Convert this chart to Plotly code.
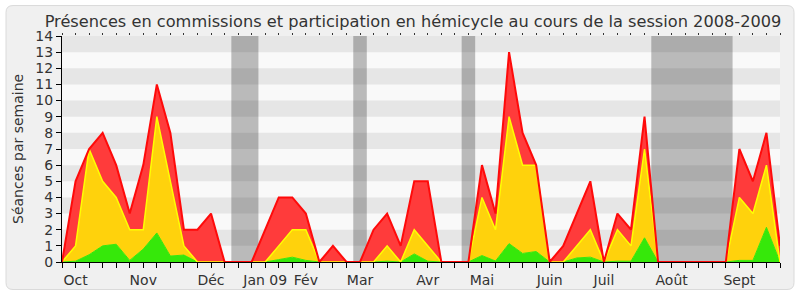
import plotly.graph_objects as go

# ---------------- data ----------------
weeks = list(range(54))
commissions = [0, 0.05, 0.45, 1.0, 1.1, 0.1, 0.8, 1.8, 0.37, 0.43,
               0, 0, 0, 0, 0, 0, 0.15, 0.3, 0.1, 0,
               0, 0, 0, 0, 0.05, 0, 0.5, 0.05, 0, 0,
               0, 0.4, 0.06, 1.14, 0.53, 0.65, 0, 0, 0.25, 0.3,
               0, 0.05, 0.05, 1.5, 0, 0, 0, 0, 0, 0,
               0.1, 0.1, 2.15, 0]
hemicycle = [0, 0.95, 6.55, 4.0, 2.9, 1.9, 1.2, 7.2, 4.63, 0.57,
             0, 0, 0, 0, 0, 0, 0.85, 1.7, 1.9, 0,
             0, 0, 0, 0, 0.95, 0, 1.5, 0.95, 0, 0,
             0, 3.6, 1.94, 7.86, 5.47, 5.35, 0, 0, 0.75, 1.7,
             0, 1.95, 0.95, 5.5, 0, 0, 0, 0, 0, 0,
             3.9, 2.9, 3.85, 0]
autres = [0, 4, 0, 3, 2, 1, 4, 2, 3, 1,
          2, 3, 0, 0, 0, 2, 3, 2, 1, 0,
          1, 0, 0, 2, 2, 1, 3, 4, 0, 0,
          0, 2, 1, 4, 2, 0, 0, 1, 2, 3,
          0, 1, 1, 2, 0, 0, 0, 0, 0, 0,
          3, 2, 2, 1]
month_pos = [1, 6, 11, 15, 18, 22, 27, 31, 36, 40, 45, 50]
month_labels = ["Oct", "Nov", "Déc", "Jan 09", "Fév", "Mar", "Avr", "Mai",
                "Juin", "Juil", "Août", "Sept"]
vacations = [(12.5, 14.5), (21.5, 22.5), (29.5, 30.5), (43.5, 49.5)]
y_ticks = list(range(15))

# ---------------- layout helpers ----------------
W, H = 800, 300
L, R, T, B = 62, 20, 36, 34
pw, ph = W - L - R, H - T - B


def px(x):
    return (x - L) / pw


def py(y):
    return (H - B - y) / ph


FONT = "DejaVu Sans"
TXT = "#333333"

fig = go.Figure()

fig.add_trace(go.Scatter(x=weeks, y=commissions, stackgroup="s", mode="lines",
                         line=dict(color="#36E80A", width=1), fillcolor="#36E80A",
                         hoverinfo="skip", showlegend=False))
fig.add_trace(go.Scatter(x=weeks, y=hemicycle, stackgroup="s", mode="lines",
                         line=dict(color="#FFFF00", width=1.5), fillcolor="#FFD20C",
                         hoverinfo="skip", showlegend=False))
fig.add_trace(go.Scatter(x=weeks, y=autres, stackgroup="s", mode="lines",
                         line=dict(color="#FF0A0A", width=2), fillcolor="#FF3B3B",
                         hoverinfo="skip", showlegend=False))
# invisible trace to carry the top tick axis
fig.add_trace(go.Scatter(x=[0, 53], y=[0, 0], xaxis="x2", mode="lines",
                         line=dict(width=0), hoverinfo="skip", showlegend=False,
                         opacity=0))

shapes = []
# rounded frame
x0, y0, x1, y1, r = 6, 5, 794, 294, 7
path = (f"M {px(x0 + r)},{py(y0)} L {px(x1 - r)},{py(y0)} "
        f"Q {px(x1)},{py(y0)} {px(x1)},{py(y0 + r)} "
        f"L {px(x1)},{py(y1 - r)} Q {px(x1)},{py(y1)} {px(x1 - r)},{py(y1)} "
        f"L {px(x0 + r)},{py(y1)} Q {px(x0)},{py(y1)} {px(x0)},{py(y1 - r)} "
        f"L {px(x0)},{py(y0 + r)} Q {px(x0)},{py(y0)} {px(x0 + r)},{py(y0)} Z")
shapes.append(dict(type="path", path=path, xref="paper", yref="paper",
                   fillcolor="#F0F0F0", line=dict(color="#DADADA", width=1),
                   layer="below"))
shapes.append(dict(type="rect", xref="paper", yref="y", x0=0, x1=1, y0=0, y1=14,
                   fillcolor="#F9F9F9", line=dict(width=0), layer="below"))
for k in range(1, 14, 2):
    shapes.append(dict(type="rect", xref="paper", yref="y", x0=0, x1=1,
                       y0=k, y1=k + 1, fillcolor="#E6E6E6", line=dict(width=0),
                       layer="below"))
for a, b in vacations:
    shapes.append(dict(type="rect", xref="x", yref="paper", x0=a, x1=b,
                       y0=0, y1=1, fillcolor="rgba(0,0,0,0.25)",
                       line=dict(width=0), layer="below"))

fig.update_layout(
    width=W, height=H,
    margin=dict(l=L, r=R, t=T, b=B, pad=0),
    paper_bgcolor="white",
    plot_bgcolor="rgba(0,0,0,0)",
    font=dict(family=FONT, size=14, color=TXT),
    title=dict(text="Présences en commissions et participation en hémicycle au cours de la session 2008-2009",
               x=413 / W, xanchor="center", y=1 - 21 / H, yanchor="middle",
               xref="container", yref="container",
               font=dict(family=FONT, size=16.2, color=TXT)),
    shapes=shapes,
    xaxis=dict(range=[0, 53], tickvals=month_pos, ticktext=month_labels,
               ticks="outside", ticklen=5, tickcolor="black", tickwidth=1,
               showline=True, linecolor="black", linewidth=1,
               showgrid=False, zeroline=False, fixedrange=True,
               minor=dict(tickvals=weeks, ticks="outside", ticklen=5,
                          tickcolor="black", tickwidth=1, showgrid=False),
               tickfont=dict(size=14, color=TXT)),
    xaxis2=dict(range=[0, 53], overlaying="x", side="top", anchor="y",
                tickvals=weeks, ticks="outside", ticklen=2, tickcolor="#333333",
                showticklabels=False, showgrid=False, showline=False,
                zeroline=False),
    yaxis=dict(range=[0, 14], tickvals=y_ticks, ticks="outside", ticklen=5,
               tickcolor="black", showline=True, linecolor="black", linewidth=1,
               showgrid=False, zeroline=False, tickfont=dict(size=14, color=TXT)),
    annotations=[dict(text="Séances par semaine", x=px(18), y=0.5,
                      xref="paper", yref="paper", textangle=-90,
                      xanchor="center", yanchor="middle", showarrow=False,
                      font=dict(family=FONT, size=14, color=TXT))],
)

fig.write_html("out.html")
